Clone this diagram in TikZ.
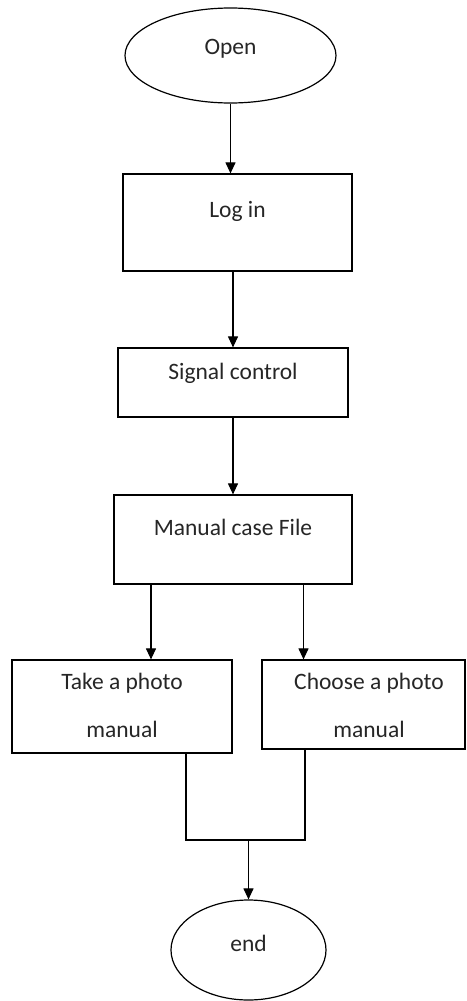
\documentclass[tikz,border=0pt]{standalone}
\usepackage{fontspec}
\setmainfont{Carlito}
\usetikzlibrary{arrows.meta,shapes.geometric}
\begin{document}
\begin{tikzpicture}[x=1pt,y=-1pt,
  every node/.style={font=\fontsize{23.5pt}{48pt}\selectfont, text=black!85},
  box/.style={draw, line width=1.2pt, rectangle, inner xsep=0pt, inner ysep=0pt, align=center},
  oval/.style={draw, line width=1.2pt, ellipse, inner sep=0pt},
  conn/.style={line width=1.1pt},
  arr/.style={conn, -{Triangle[length=11pt,width=10pt]}}]
\useasboundingbox (0,0) rectangle (466,1001);
\node[oval, minimum width=211pt, minimum height=95pt, text height=8pt, text depth=10pt] (open) at (230.5,55.5) {Open};
\node[box, minimum width=229pt, minimum height=97pt, text height=10pt, text depth=21pt] (login) at (237.5,222.5) {Log in};
\node[box, minimum width=230pt, minimum height=69pt, text height=12pt, text depth=19pt] (sig) at (233,382.5) {Signal control};
\node[box, minimum width=238pt, minimum height=89pt, text height=11pt, text depth=20pt] (man) at (233,539.5) {Manual case File};
\node[box, minimum width=220pt, minimum height=93pt, text height=61pt, text depth=0pt] (take) at (122,706.5) {Take a photo\\manual};
\node[box, minimum width=203pt, minimum height=89pt, text height=65pt, text depth=0pt] (choose) at (363.5,704.5) {\hspace*{11pt}Choose a photo\\\hspace*{11pt}manual};
\node[oval, minimum width=155pt, minimum height=100pt, text height=10pt, text depth=8pt] (end) at (248.5,950) {end};
\coordinate (j) at (248.5,840);
\draw[arr] (open.south) -- (open.south |- login.north);
\draw[arr] (sig.north |- login.south) -- (sig.north);
\draw[arr] (sig.south) -- (man.north);
\draw[arr] ([xshift=-82pt]man.south) -- ([xshift=-82pt]man.south |- take.north);
\draw[arr] ([xshift=70.5pt]man.south) -- ([xshift=70.5pt]man.south |- choose.north);
\draw[conn] ([xshift=64pt]take.south) |- (j);
\draw[conn] ([xshift=-58.5pt]choose.south) |- (j);
\draw[arr] (j) -- (end.north);
\end{tikzpicture}
\end{document}
